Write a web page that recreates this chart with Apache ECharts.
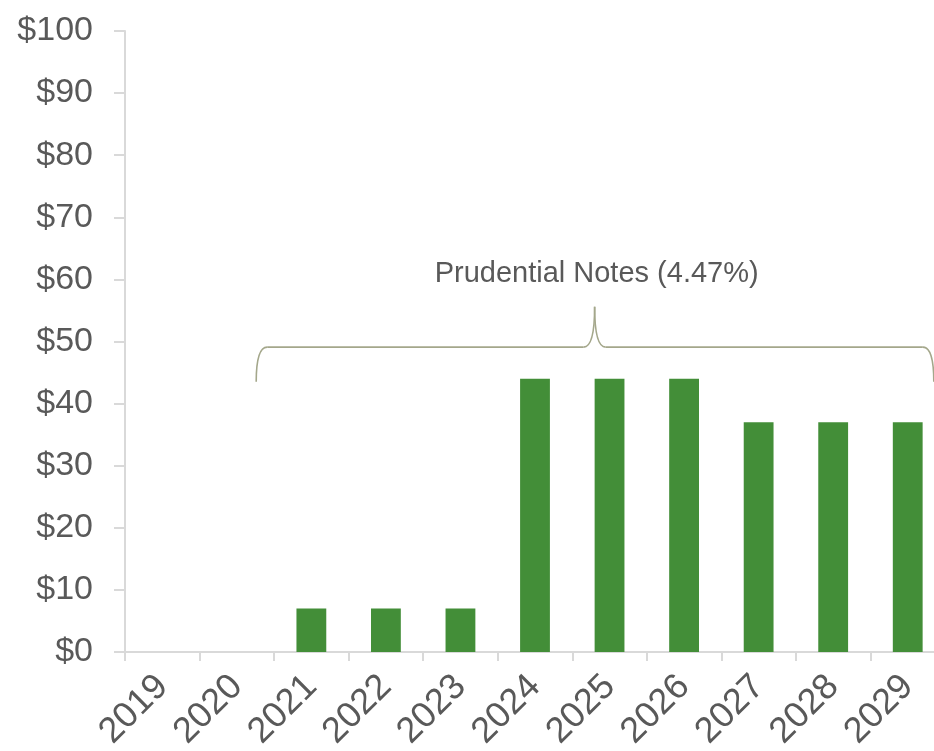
<!DOCTYPE html>
<html>
<head>
<meta charset="utf-8">
<script src="https://cdn.jsdelivr.net/npm/echarts@6/dist/echarts.min.js"></script>
<style>
html,body{margin:0;padding:0;background:#fff;}
#chart{width:934px;height:751px;}
</style>
</head>
<body>
<div id="chart"></div>
<script>
const categories = ['2019','2020','2021','2022','2023','2024','2025','2026','2027','2028','2029'];
const notesValues = [0, 0, 7, 7, 7, 44, 44, 44, 37, 37, 37];
const yTicks = [0, 10, 20, 30, 40, 50, 60, 70, 80, 90, 100];
const braceLabel = 'Prudential Notes (4.47%)';

const FONT = '"Liberation Sans", Arial, sans-serif';
const chart = echarts.init(document.getElementById('chart'), null, {renderer: 'canvas'});

const option = {
  animation: false,
  backgroundColor: '#ffffff',
  grid: {left: 125, right: -11, top: 31, bottom: 99, containLabel: false, outerBoundsMode: 'none'},
  xAxis: {
    type: 'category',
    data: categories,
    boundaryGap: true,
    axisLine: {show: true, lineStyle: {color: '#d9d9d9', width: 2}},
    axisTick: {show: true, alignWithLabel: false, length: 9, lineStyle: {color: '#d9d9d9', width: 2}},
    axisLabel: {rotate: 45, margin: 29, color: '#595959', fontSize: 36, fontFamily: FONT, interval: 0}
  },
  yAxis: {
    type: 'value',
    min: yTicks[0],
    max: yTicks[yTicks.length - 1],
    interval: 10,
    splitLine: {show: false},
    axisLine: {show: true, lineStyle: {color: '#d9d9d9', width: 2}},
    axisTick: {show: true, length: 11, lineStyle: {color: '#d9d9d9', width: 2}},
    axisLabel: {margin: 32, color: '#595959', fontSize: 34, fontFamily: FONT, formatter: v => '$' + v}
  },
  series: [{
    type: 'bar',
    data: notesValues,
    barWidth: '40%',
    itemStyle: {color: '#438E38', borderWidth: 0}
  }]
};
chart.setOption(option);

function drawBrace() {
  const p0 = chart.convertToPixel({xAxisIndex: 0}, categories[0]);
  const p1 = chart.convertToPixel({xAxisIndex: 0}, categories[1]);
  const band = p1 - p0;
  const xAt = f => p0 + f * band;
  const yAt = v => chart.convertToPixel({yAxisIndex: 0}, v);
  const left = xAt(1.26), right = xAt(10.35), peak = xAt(5.8);
  const yH = yAt(49.1), yB = yAt(43.5), yP = yAt(55.6), yT = yAt(60.9);
  const r = 11;
  const st = {stroke: '#a4a78b', lineWidth: 1.6, fill: null};
  const curve = (x1, y1, cx, cy, x2, y2) => ({type: 'bezierCurve', silent: true, shape: {x1, y1, cpx1: cx, cpy1: cy, x2, y2}, style: st});
  const line = (x1, y1, x2, y2) => ({type: 'line', silent: true, shape: {x1, y1, x2, y2}, style: st});
  chart.setOption({
    graphic: [
      curve(left, yB, left, yH, left + r, yH),
      line(left + r, yH, peak - r, yH),
      curve(peak - r, yH, peak, yH, peak, yP),
      curve(peak, yP, peak, yH, peak + r, yH),
      line(peak + r, yH, right - r, yH),
      curve(right - r, yH, right, yH, right, yB),
      {type: 'text', x: peak + 2, y: yT, silent: true, style: {text: braceLabel, fill: '#595959', font: '29px ' + FONT, textAlign: 'center', textVerticalAlign: 'middle'}}
    ]
  });
}
drawBrace();
</script>
</body>
</html>
